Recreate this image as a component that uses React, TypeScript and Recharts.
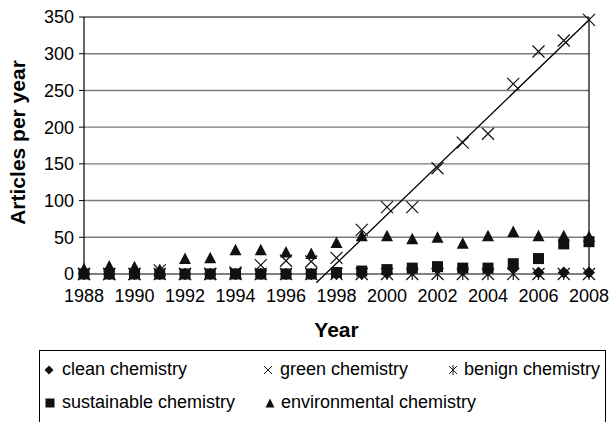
import React from 'react'
import { ScatterChart, Scatter, XAxis, YAxis, ReferenceLine, Label } from 'recharts'

const FONT = '"Liberation Sans", Arial, Helvetica, sans-serif'

// years on the x axis
const years = [1988, 1989, 1990, 1991, 1992, 1993, 1994, 1995, 1996, 1997, 1998, 1999, 2000, 2001, 2002, 2003, 2004, 2005, 2006, 2007, 2008]
const yearTicks = [1988, 1990, 1992, 1994, 1996, 1998, 2000, 2002, 2004, 2006, 2008]
const valueTicks = [0, 50, 100, 150, 200, 250, 300, 350]

// articles per year
const clean = [0, 0, 0, 0, 0, 0, 0, 0, 0, 0, 0, 0, 1, 5, 7, 5, 5, 8, 2, 2, 2]
const green = [0, 0, 0, 5, 0, 0, 2, 12, 18, 17, 22, 60, 91, 91, 144, 179, 191, 259, 303, 318, 346]
const benign = [0, 0, 0, 0, 0, 0, 0, 0, 0, 0, 0, 0, 0, 0, 0, 0, 0, 0, 0, 0, 0]
const sustainable = [0, 0, 0, 0, 0, 0, 0, 0, 0, 0, 2, 4, 6, 8, 10, 8, 8, 14, 21, 41, 44]
const environmental = [7, 11, 10, 6, 21, 22, 33, 33, 30, 28, 43, 52, 52, 48, 50, 42, 52, 58, 52, 52, 51]

// linear trend through green chemistry (start / end)
const trendYears = [1997.2, 2008]
const trendValues = [-12, 346]

const toPoints = (vals: number[]) => years.map((year, i) => ({ year, value: vals[i] }))

const INK = '#111'

const Diamond = ({ cx, cy }: any) => (
  <path d={`M${cx},${cy - 6}L${cx + 6},${cy}L${cx},${cy + 6}L${cx - 6},${cy}Z`} fill={INK} />
)
const Cross = ({ cx, cy }: any) => (
  <path d={`M${cx - 6},${cy - 6}L${cx + 6},${cy + 6}M${cx + 6},${cy - 6}L${cx - 6},${cy + 6}`} stroke={INK} strokeWidth={1.2} fill="none" />
)
const Star = ({ cx, cy }: any) => (
  <path d={`M${cx - 6},${cy - 6}L${cx + 6},${cy + 6}M${cx + 6},${cy - 6}L${cx - 6},${cy + 6}M${cx},${cy - 6}L${cx},${cy + 6}`} stroke={INK} strokeWidth={1.2} fill="none" />
)
const Square = ({ cx, cy }: any) => <rect x={cx - 5.5} y={cy - 5.5} width={11} height={11} fill={INK} />
const Triangle = ({ cx, cy }: any) => (
  <path d={`M${cx},${cy - 6}L${cx + 6},${cy + 5.5}L${cx - 6},${cy + 5.5}Z`} fill={INK} />
)

function LegendMark({ kind }: { kind: string }) {
  let el: React.ReactNode = null
  if (kind === 'diamond') el = <path d="M6,1.5L10.5,6L6,10.5L1.5,6Z" fill={INK} />
  if (kind === 'cross') el = <path d="M2,2L10,10M10,2L2,10" stroke={INK} strokeWidth={1} />
  if (kind === 'star') el = <path d="M2,2L10,10M10,2L2,10M6,1L6,11" stroke={INK} strokeWidth={1} />
  if (kind === 'square') el = <rect x={1.5} y={1.5} width={9} height={9} fill={INK} />
  if (kind === 'triangle') el = <path d="M6,1.5L10.5,10.5L1.5,10.5Z" fill={INK} />
  return <svg width={12} height={12} style={{ position: 'absolute', left: -6, top: -6 }}>{el}</svg>
}

const legendItems = [
  { name: 'clean chemistry', kind: 'diamond', mx: 49, tx: 62, y: 370 },
  { name: 'green chemistry', kind: 'cross', mx: 268, tx: 280, y: 370 },
  { name: 'benign chemistry', kind: 'star', mx: 453, tx: 464, y: 370 },
  { name: 'sustainable chemistry', kind: 'square', mx: 50, tx: 62, y: 403 },
  { name: 'environmental chemistry', kind: 'triangle', mx: 270, tx: 281, y: 403 },
]

export default function App() {
  const trend = trendYears.map((x, i) => ({ x, y: trendValues[i] }))
  return (
    <div style={{ position: 'relative', width: 612, height: 422, overflow: 'hidden', fontFamily: FONT, background: '#fff' }}>
      <style>{'body{margin:0}'}</style>
      <ScatterChart width={612} height={422} margin={{ top: 17, right: 23, bottom: 0, left: 0 }}>
        <XAxis
          type="number"
          dataKey="year"
          domain={[1988, 2008]}
          ticks={yearTicks}
          interval={0}
          height={148}
          tickLine={false}
          tickSize={6}
          tickMargin={9}
          axisLine={{ stroke: '#000', strokeWidth: 1.2 }}
          tick={{ fill: '#000', fontSize: 18, fontFamily: FONT }}
        >
          <Label value="Year" position="insideTop" offset={48} fill="#000" fontSize={21} fontWeight="bold" fontFamily={FONT} />
        </XAxis>
        <YAxis
          type="number"
          dataKey="value"
          domain={[0, 350]}
          ticks={valueTicks}
          interval={0}
          width={84}
          tickSize={5}
          tickMargin={5}
          axisLine={{ stroke: '#000', strokeWidth: 1.2 }}
          tickLine={{ stroke: '#000' }}
          tick={{ fill: '#000', fontSize: 18, fontFamily: FONT }}
        >
          <Label value="Articles per year" angle={-90} position="center" dx={-24} dy={-3} fill="#000" fontSize={21} fontWeight="bold" fontFamily={FONT} />
        </YAxis>
        {valueTicks.slice(1, -1).map((v) => (
          <ReferenceLine key={v} y={v} stroke="#7a7a7a" strokeWidth={1.4} />
        ))}
        <ReferenceLine y={350} stroke="#000" strokeWidth={1.2} />
        <ReferenceLine x={2008} stroke="#000" strokeWidth={1.2} />
        <ReferenceLine segment={trend} stroke="#000" strokeWidth={1.3} ifOverflow="visible" />
        <Scatter name="clean chemistry" data={toPoints(clean)} shape={Diamond} isAnimationActive={false} />
        <Scatter name="green chemistry" data={toPoints(green)} shape={Cross} isAnimationActive={false} />
        <Scatter name="benign chemistry" data={toPoints(benign)} shape={Star} isAnimationActive={false} />
        <Scatter name="environmental chemistry" data={toPoints(environmental)} shape={Triangle} isAnimationActive={false} />
        <Scatter name="sustainable chemistry" data={toPoints(sustainable)} shape={Square} isAnimationActive={false} />
      </ScatterChart>
      <div style={{ position: 'absolute', left: 39, top: 350, width: 567, height: 120, border: '1px solid #000', boxSizing: 'border-box', background: '#fff' }} />
      {legendItems.map((it) => (
        <React.Fragment key={it.name}>
          <div style={{ position: 'absolute', left: it.mx, top: it.y }}>
            <LegendMark kind={it.kind} />
          </div>
          <div style={{ position: 'absolute', left: it.tx, top: it.y - 11, fontSize: 18, lineHeight: '21px', color: '#000', whiteSpace: 'nowrap' }}>
            {it.name}
          </div>
        </React.Fragment>
      ))}
    </div>
  )
}
